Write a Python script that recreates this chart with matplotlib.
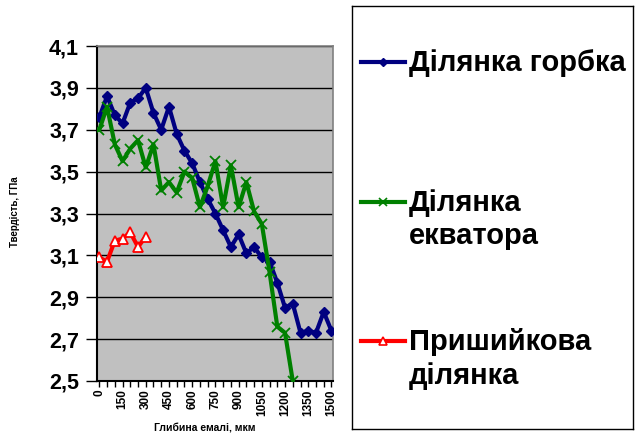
import matplotlib.pyplot as plt

plt.rcParams['font.family'] = ['Liberation Sans', 'DejaVu Sans']
plt.rcParams['font.weight'] = 'bold'

# depth of enamel, mkm (category axis, step 50)
depth = [0, 50, 100, 150, 200, 250, 300, 350, 400, 450, 500, 550, 600, 650, 700,
         750, 800, 850, 900, 950, 1000, 1050, 1100, 1150, 1200, 1250, 1300, 1350,
         1400, 1450, 1500]

# hardness, GPa
hump = [3.76, 3.86, 3.77, 3.73, 3.83, 3.85, 3.90, 3.78, 3.70, 3.81, 3.68, 3.60,
        3.54, 3.45, 3.37, 3.30, 3.22, 3.14, 3.20, 3.11, 3.14, 3.09, 3.07, 2.97,
        2.85, 2.87, 2.73, 2.74, 2.73, 2.83, 2.74]
equator = [3.70, 3.81, 3.63, 3.55, 3.61, 3.65, 3.52, 3.63, 3.41, 3.45, 3.40, 3.50,
           3.47, 3.33, 3.43, 3.55, 3.33, 3.53, 3.33, 3.45, 3.31, 3.25, 3.02, 2.76,
           2.73, 2.50]
cervical = [3.09, 3.07, 3.17, 3.18, 3.21, 3.14, 3.19]

labels = ['Ділянка горбка', 'Ділянка\nекватора', 'Пришийкова\nділянка']
colors = ['#000080', '#008000', '#ff0000']

yticks = [2.5, 2.7, 2.9, 3.1, 3.3, 3.5, 3.7, 3.9, 4.1]
ytick_labels = ['2,5', '2,7', '2,9', '3,1', '3,3', '3,5', '3,7', '3,9', '4,1']

W, H = 635, 434
fig = plt.figure(figsize=(W / 100, H / 100), dpi=100, facecolor='white')
ax = fig.add_axes([97 / W, 1 - 381 / H, 236 / W, 335 / H])
ax.set_facecolor('#c0c0c0')

ax.plot(depth[:len(hump)], hump, color=colors[0], lw=3, marker='D', ms=5.5, zorder=3)
ax.plot(depth[:len(equator)], equator, color=colors[1], lw=3, marker='x', ms=7, mew=1.3, zorder=3)
ax.plot(depth[:len(cervical)], cervical, color=colors[2], lw=3, marker='^', ms=7,
        mfc='white', mew=1.3, zorder=3)

ax.set_xlim(-15, 1510)
ax.set_ylim(2.5, 4.1)
ax.set_yticks(yticks)
ax.set_yticklabels(ytick_labels, fontsize=15.5)
ax.set_xticks(depth)
ax.set_xticklabels([str(d) if d % 150 == 0 else '' for d in depth], rotation=90, fontsize=8.5)
ax.tick_params(axis='y', direction='out', length=8, width=1, pad=5)
ax.tick_params(axis='x', direction='out', length=4, width=1, pad=2)

ax.yaxis.grid(True, color='black', lw=1)
ax.set_axisbelow(True)
for s in ['left', 'bottom']:
    ax.spines[s].set_color('black')
    ax.spines[s].set_linewidth(1.5)
for s in ['top', 'right']:
    ax.spines[s].set_color('#808080')
    ax.spines[s].set_linewidth(1.2)

fig.text(15 / W, 1 - 212 / H, 'Твердість, ГПа', rotation=90, fontsize=7, ha='center', va='center')
fig.text(205 / W, 1 - 428 / H, 'Глибина емалі, мкм', fontsize=7.5, ha='center', va='center')

# legend box drawn in pixel coordinates
lax = fig.add_axes([352 / W, 1 - 429 / H, 281 / W, 423 / H])
lax.set_xlim(352, 633)
lax.set_ylim(429, 6)
lax.set_xticks([])
lax.set_yticks([])
for s in lax.spines.values():
    s.set_color('black')
    s.set_linewidth(1)

markers = [dict(marker='D', ms=4), dict(marker='x', ms=6, mew=1.2),
           dict(marker='^', ms=6, mfc='white', mew=1.2)]
handle_y = [62, 202, 341]
for lab, c, mk, hy in zip(labels, colors, markers, handle_y):
    lax.plot([361, 405], [hy, hy], color=c, lw=3)
    lax.plot([383], [hy], color=c, **mk)
    lax.text(409, hy - 13, lab, fontsize=21, va='top', ha='left', linespacing=1.25)

fig.savefig('out.png', dpi=100, facecolor='white')
